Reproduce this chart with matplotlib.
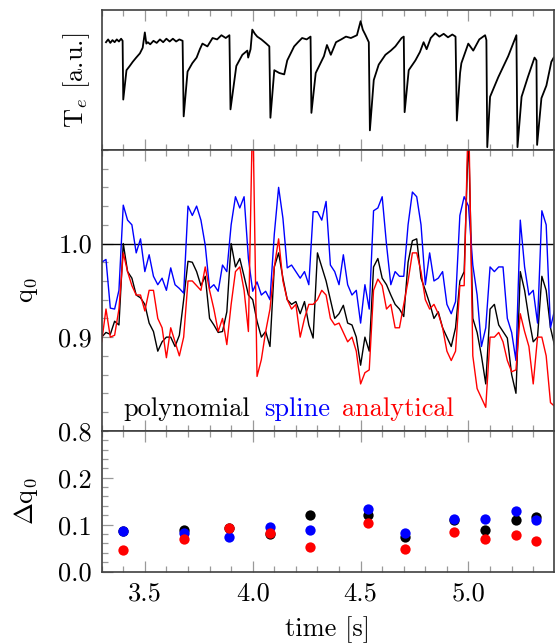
import matplotlib
matplotlib.use('Agg')
from matplotlib import pyplot as plt
from matplotlib.ticker import MultipleLocator, FormatStrFormatter
import numpy as np

plt.rcParams.update({'font.family': 'serif', 'font.serif': ['cmr10'],
                     'mathtext.fontset': 'cm', 'font.size': 19,
                     'axes.unicode_minus': False})

# electron temperature trace (sawtooth), arbitrary units
te_t = [3.320, 3.330, 3.340, 3.350, 3.360, 3.370, 3.380, 3.390, 3.397,
        3.400, 3.415, 3.430, 3.444, 3.460, 3.477, 3.490, 3.500, 3.507, 3.514, 3.525,
        3.540, 3.555, 3.570, 3.585, 3.600, 3.615, 3.630, 3.645, 3.660, 3.675,
        3.680, 3.698, 3.720, 3.740, 3.755, 3.767, 3.790, 3.814, 3.835, 3.855, 3.875, 3.892,
        3.897, 3.924, 3.952, 3.975, 3.979, 3.990, 3.998, 4.010, 4.021, 4.040, 4.063, 4.077,
        4.082, 4.100, 4.123, 4.146, 4.160, 4.192, 4.210, 4.229, 4.250, 4.268,
        4.272, 4.292, 4.330, 4.344, 4.362, 4.386, 4.410, 4.432, 4.455, 4.483, 4.500, 4.510, 4.523, 4.538,
        4.543, 4.561, 4.584, 4.615, 4.640, 4.661, 4.690, 4.700,
        4.704, 4.723, 4.754, 4.775, 4.792, 4.806, 4.825, 4.846, 4.865, 4.885, 4.905, 4.925, 4.940,
        4.946, 4.961, 4.967, 4.999, 5.022, 5.050, 5.077, 5.083,
        5.087, 5.100, 5.138, 5.184, 5.222,
        5.227, 5.246, 5.275, 5.306, 5.315,
        5.318, 5.338, 5.361, 5.384, 5.395]
te_v = [0.77, 0.79, 0.765, 0.785, 0.77, 0.79, 0.775, 0.795, 0.78,
        0.36, 0.57, 0.60, 0.63, 0.66, 0.69, 0.73, 0.84, 0.76, 0.77, 0.755,
        0.78, 0.765, 0.79, 0.77, 0.795, 0.775, 0.795, 0.775, 0.79, 0.78,
        0.24, 0.56, 0.62, 0.66, 0.72, 0.76, 0.74, 0.80, 0.79, 0.82, 0.80, 0.82,
        0.29, 0.60, 0.68, 0.71, 0.66, 0.72, 0.86, 0.83, 0.81, 0.79, 0.76, 0.74,
        0.23, 0.57, 0.55, 0.54, 0.64, 0.74, 0.77, 0.80, 0.79, 0.81,
        0.265, 0.55, 0.67, 0.75, 0.68, 0.77, 0.79, 0.81, 0.80, 0.82, 0.92, 0.86, 0.82, 0.77,
        0.14, 0.50, 0.61, 0.68, 0.71, 0.74, 0.80, 0.81,
        0.27, 0.57, 0.64, 0.70, 0.77, 0.72, 0.80, 0.835, 0.81, 0.83, 0.805, 0.825, 0.81,
        0.21, 0.55, 0.62, 0.76, 0.71, 0.79, 0.82, 0.785,
        0.02, 0.38, 0.52, 0.67, 0.82,
        0.02, 0.38, 0.52, 0.66, 0.64,
        0.036, 0.37, 0.46, 0.63, 0.66]

# q0 reconstructions, sampled every 0.02 s from 3.30 s to 5.40 s
q_poly = [0.900, 0.905, 0.903, 0.917, 0.913, 1.000, 0.970, 0.963, 0.945, 0.942,
          0.935, 0.915, 0.906, 0.885, 0.895, 0.900, 0.900, 0.890, 0.902, 0.940,
          0.981, 0.980, 0.970, 0.955, 0.965, 0.920, 0.913, 0.905, 0.906, 0.927,
          1.000, 0.975, 0.984, 0.965, 0.945, 0.940, 0.917, 0.900, 0.906, 0.890,
          0.975, 0.990, 0.963, 0.940, 0.935, 0.938, 0.925, 0.938, 0.913, 0.899,
          0.990, 0.975, 0.960, 0.940, 0.920, 0.925, 0.934, 0.915, 0.913, 0.900,
          0.870, 0.900, 0.885, 0.975, 0.984, 0.963, 0.956, 0.945, 0.935, 0.930,
          0.922, 0.980, 1.003, 1.005, 0.963, 0.950, 0.936, 0.920, 0.927, 0.910,
          0.900, 0.890, 0.910, 0.960, 0.970, 1.120, 0.920, 0.905, 0.880, 0.850,
          0.930, 0.935, 0.913, 0.906, 0.899, 0.860, 0.840, 0.970, 0.950, 0.920,
          0.895, 0.900, 0.965, 0.950, 0.910, 0.890]
q_spline = [0.980, 0.983, 0.931, 0.930, 0.950, 1.041, 1.025, 1.020, 0.990, 1.005,
            0.970, 0.988, 0.965, 0.956, 0.963, 0.950, 0.974, 0.956, 0.952, 0.947,
            1.040, 1.030, 1.040, 1.025, 0.998, 0.952, 0.956, 0.949, 0.977, 0.970,
            1.020, 1.050, 1.038, 1.050, 0.984, 0.949, 0.959, 0.945, 0.949, 0.940,
            1.010, 1.060, 1.027, 0.974, 0.977, 0.970, 0.963, 0.970, 0.956, 1.034,
            1.034, 1.025, 1.045, 0.977, 0.970, 0.956, 0.988, 0.956, 0.945, 0.950,
            0.915, 0.956, 0.930, 1.035, 1.038, 1.050, 0.999, 0.956, 0.970, 0.965,
            0.965, 1.020, 1.055, 1.050, 1.020, 0.956, 0.990, 0.960, 0.963, 0.970,
            0.935, 0.925, 0.938, 1.030, 1.050, 1.040, 0.977, 0.945, 0.890, 0.910,
            0.975, 0.970, 0.975, 0.975, 0.920, 0.905, 0.875, 1.025, 0.975, 0.945,
            0.950, 0.915, 1.035, 1.020, 0.910, 0.930]
q_anal = [0.895, 0.930, 0.900, 0.902, 0.930, 0.990, 0.970, 0.955, 0.945, 0.945,
          0.928, 0.950, 0.950, 0.920, 0.910, 0.878, 0.910, 0.895, 0.880, 0.900,
          0.960, 0.960, 0.955, 0.950, 0.975, 0.950, 0.930, 0.906, 0.920, 0.892,
          0.935, 0.970, 0.975, 0.950, 0.906, 1.150, 0.858, 0.876, 0.906, 0.930,
          0.975, 1.005, 0.960, 0.940, 0.930, 0.935, 0.900, 0.920, 0.935, 0.935,
          0.940, 0.950, 0.945, 0.920, 0.913, 0.915, 0.905, 0.895, 0.900, 0.885,
          0.850, 0.862, 0.865, 0.950, 0.962, 0.955, 0.930, 0.935, 0.910, 0.910,
          0.935, 0.960, 0.990, 0.990, 0.970, 0.940, 0.930, 0.935, 0.925, 0.910,
          0.885, 0.875, 0.885, 0.955, 0.955, 1.150, 0.880, 0.845, 0.835, 0.825,
          0.900, 0.900, 0.905, 0.895, 0.875, 0.863, 0.865, 0.925, 0.906, 0.890,
          0.850, 0.900, 0.900, 0.880, 0.830, 0.826]

# uncertainty of q0 at each sawtooth crash
crash_t = [3.40, 3.68, 3.89, 4.08, 4.265, 4.535, 4.705, 4.935, 5.075, 5.222, 5.312]
dq_poly = [0.087, 0.089, 0.092, 0.080, 0.121, 0.121, 0.073, 0.110, 0.089, 0.109, 0.117]
dq_spline = [0.087, 0.083, 0.073, 0.096, 0.089, 0.133, 0.082, 0.111, 0.111, 0.129, 0.110]
dq_anal = [0.046, 0.069, 0.092, 0.083, 0.052, 0.103, 0.048, 0.085, 0.070, 0.078, 0.066]

q_t = np.linspace(3.30, 5.40, len(q_poly))

fig, axes = plt.subplots(3, 1, sharex=True, figsize=(5.55, 6.43), dpi=100,
                         gridspec_kw={'height_ratios': [140, 281, 141], 'hspace': 0})
fig.subplots_adjust(left=0.1832, right=0.9977, top=0.9844, bottom=0.111)

for ax in axes:
    ax.set_xlim(3.3, 5.395)
    ax.xaxis.set_major_locator(MultipleLocator(0.5))
    ax.xaxis.set_minor_locator(MultipleLocator(0.1))
    ax.tick_params(which='both', direction='in', top=True, bottom=True,
                   left=True, right=False, color='#999999', width=0.9)
    ax.tick_params(which='major', length=8, pad=7)
    ax.tick_params(which='minor', length=4.5)
    for s in ax.spines.values():
        s.set_color('#404040')
        s.set_linewidth(1.2)

# Te
ax = axes[0]
ax.plot(te_t, te_v, color='black', lw=1.3)
ax.set_ylim(0, 1)
ax.set_yticks([])
ax.set_ylabel(r'T$_e$ [a.u.]')
ax.yaxis.set_label_coords(-0.022, 0.5)

# q0
ax = axes[1]
ax.axhline(1.0, color='black', lw=1.0)
ax.plot(q_t, q_poly, color='black', lw=1.0)
ax.plot(q_t, q_spline, color='blue', lw=1.0)
ax.plot(q_t, q_anal, color='red', lw=1.0)
ax.set_ylim(0.8, 1.1)
ax.set_yticks([0.8, 0.9, 1.0])
ax.yaxis.set_minor_locator(MultipleLocator(0.02))
ax.yaxis.set_major_formatter(FormatStrFormatter('%.1f'))
ax.set_ylabel(r'q$_0$')
ax.yaxis.set_label_coords(-0.137, 0.5)
t1 = ax.text(3.40, 0.816, 'polynomial', color='black')
t2 = ax.annotate('spline', xy=(1, 0), xycoords=t1, xytext=(10, 0),
                 textcoords='offset points', color='blue', va='bottom')
ax.annotate('analytical', xy=(1, 0), xycoords=t2, xytext=(9, 0),
            textcoords='offset points', color='red', va='bottom')

# delta q0
ax = axes[2]
ax.scatter(crash_t, dq_poly, s=55, color='black', zorder=3, linewidths=0)
ax.scatter(crash_t, dq_spline, s=55, color='blue', zorder=4, linewidths=0)
ax.scatter(crash_t, dq_anal, s=55, color='red', zorder=5, linewidths=0)
ax.set_ylim(0, 0.3)
ax.set_yticks([0.0, 0.1, 0.2])
ax.yaxis.set_minor_locator(MultipleLocator(0.02))
ax.yaxis.set_major_formatter(FormatStrFormatter('%.1f'))
ax.xaxis.set_major_formatter(FormatStrFormatter('%.1f'))
ax.set_ylabel(r'$\Delta$q$_0$')
ax.yaxis.set_label_coords(-0.137, 0.5)
ax.set_xlabel('time [s]', labelpad=8)

plt.savefig('out.png', dpi=100)
